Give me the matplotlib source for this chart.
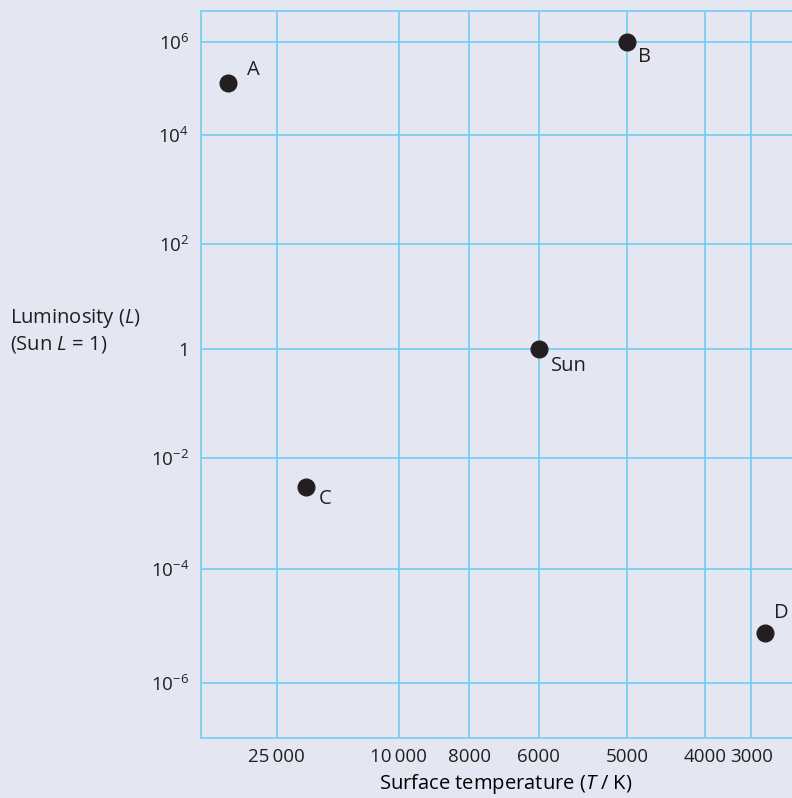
import numpy as np
import matplotlib
matplotlib.use('Agg')
import matplotlib.pyplot as plt

# ── data ─────────────────────────────────────────────────────────────────────
star_names = ['A', 'B', 'Sun', 'C', 'D']
star_temp = [36000, 5000, 6000, 20000, 2760]          # K
star_lum = [1.3e5, 1e6, 1.0, 3e-3, 7.5e-6]            # Sun L = 1

temp_ticks = [25000, 10000, 8000, 6000, 5000, 4000, 3000]
temp_labels = ['25\u2009000', '10\u2009000', '8000', '6000', '5000', '4000', '3000']
lum_ticks = [1e6, 1e4, 1e2, 1.0, 1e-2, 1e-4, 1e-6]
lum_labels = [r'$10^{6}$', r'$10^{4}$', r'$10^{2}$', '1',
              r'$10^{-2}$', r'$10^{-4}$', r'$10^{-6}$']

# ── layout (pixels of the 792 x 798 figure) ──────────────────────────────────
W, H = 792, 798
# where each gridline sits: the diagram's axes are hand-spaced, not true log
grid_x_px = [276.7, 398.7, 469.3, 538.7, 627.0, 705.3, 751.3]
grid_y_px = [41.7, 134.7, 244.0, 348.7, 458.0, 568.7, 683.0]
ax_left, ax_right, ax_top, ax_bottom = 201, 792, 11, 738

label_off = {'A': (19, 13), 'B': (11, -15), 'Sun': (12, -17),
             'C': (12, -12), 'D': (9, 20)}

BG = '#e4e6f1'
GRID = '#74cdf1'
INK = '#231f20'


def piecewise_log(vals, pos):
    """forward/inverse for a scale that is linear in log10 between anchors
    (pos must grow with vals)"""
    lv = np.log10(np.asarray(vals, float))
    pv = np.asarray(pos, float)
    o = np.argsort(lv)
    lv, pv = lv[o], pv[o]

    def _ext(x, xp, fp):
        y = np.interp(x, xp, fp)
        s0 = (fp[1] - fp[0]) / (xp[1] - xp[0])
        s1 = (fp[-1] - fp[-2]) / (xp[-1] - xp[-2])
        y = np.where(x < xp[0], fp[0] + (x - xp[0]) * s0, y)
        y = np.where(x > xp[-1], fp[-1] + (x - xp[-1]) * s1, y)
        return y

    def fwd(v):
        v = np.clip(np.asarray(v, float), 1e-300, None)
        return _ext(np.log10(v), lv, pv)

    def inv(u):
        return 10 ** _ext(np.asarray(u, float), pv, lv)

    return fwd, inv


# both scales made increasing; the x axis is then shown hot-to-cool
fx, ix = piecewise_log(temp_ticks, [-p for p in grid_x_px])
fy, iy = piecewise_log(lum_ticks, [H - p for p in grid_y_px])

plt.rcParams.update({
    'font.family': ['Open Sans', 'DejaVu Sans'],
    'mathtext.fontset': 'custom',
    'mathtext.rm': 'Open Sans',
    'mathtext.it': 'Open Sans:italic',
    'font.size': 14.5,
    'text.color': INK,
    'xtick.color': INK,
    'ytick.color': INK,
})

fig = plt.figure(figsize=(W / 100, H / 100), dpi=100, facecolor=BG)
ax = fig.add_axes([ax_left / W, (H - ax_bottom) / H,
                   (ax_right - ax_left) / W, (ax_bottom - ax_top) / H])
ax.set_facecolor(BG)

ax.set_xscale('function', functions=(fx, ix))
ax.set_yscale('function', functions=(fy, iy))

ax.plot(star_temp, star_lum, 'o', color=INK, ms=12, ls='none', zorder=5,
        clip_on=False)
for name, t, l in zip(star_names, star_temp, star_lum):
    dx, dy = label_off[name]
    ax.annotate(name, (t, l), xytext=(dx / 1.389, dy / 1.389),
                textcoords='offset points', ha='left', va='center',
                fontsize=14.5, color=INK)

ax.set_xticks(temp_ticks)
ax.set_xticklabels(temp_labels)
ax.set_yticks(lum_ticks)
ax.set_yticklabels(lum_labels)
ax.minorticks_off()
ax.tick_params(axis='x', length=0, pad=7, labelsize=13.5)
ax.tick_params(axis='y', length=0, pad=8.5, labelsize=13.5)

ax.set_xlim(float(ix(-ax_left)), float(ix(-ax_right)))
ax.set_ylim(float(iy(H - ax_bottom)), float(iy(H - ax_top)))

ax.grid(True, color=GRID, lw=1.2)
ax.set_axisbelow(True)
for side in ['left', 'top', 'bottom']:
    ax.spines[side].set_color(GRID)
    ax.spines[side].set_linewidth(1.2)
ax.spines['right'].set_visible(False)

ax.set_xlabel('Surface temperature ($T$ / K)', fontsize=14.5)
ax.xaxis.set_label_coords((506 - ax_left) / (ax_right - ax_left),
                          -(772 - ax_bottom) / (ax_bottom - ax_top))

fig.text(10.5 / W, 1 - 331 / H, 'Luminosity ($L$)\n(Sun $L$ = 1)',
         ha='left', va='center', fontsize=14.5, linespacing=1.3)

fig.savefig('out.png', dpi=100, facecolor=BG)
